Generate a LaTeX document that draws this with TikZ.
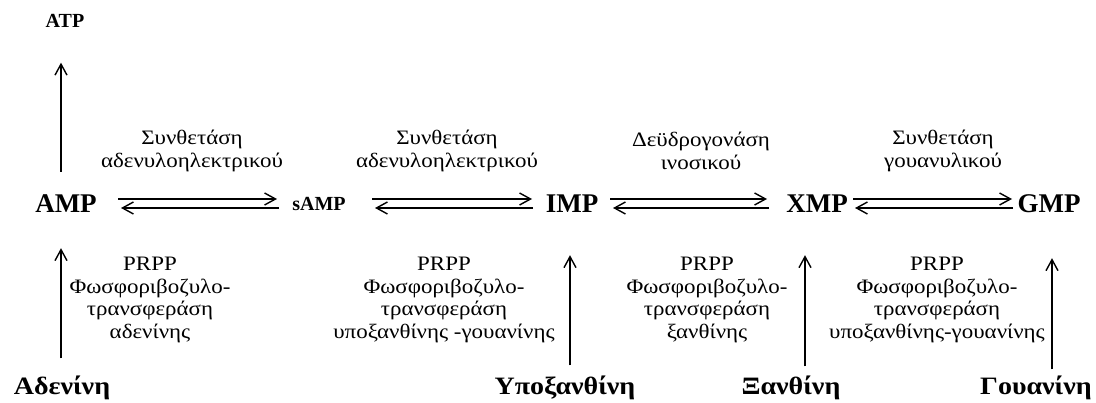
\documentclass[tikz,border=0pt]{standalone}
\usepackage{fontspec}
\setmainfont{Liberation Serif}
\newfontfamily\grfont{Liberation Serif}[FakeStretch=1.12]
\usetikzlibrary{arrows.meta}

\begin{document}
\begin{tikzpicture}[
    x=1pt, y=-1pt,
    met/.style={font=\bfseries\fontsize{27}{27}\selectfont, inner sep=0pt, text height=18pt, text depth=0pt},
    smet/.style={font=\bfseries\fontsize{20}{20}\selectfont, inner sep=0pt, text height=13pt, text depth=0pt},
    base/.style={font=\grfont\bfseries\fontsize{25}{25}\selectfont, inner sep=0pt, text height=16pt, text depth=5pt},
    enz/.style={font=\grfont\fontsize{20.5}{22.5}\selectfont, align=center, inner sep=0pt},
    arr/.style={-{Straight Barb[length=11pt,width=12pt]}, line width=1.4pt}
]
\useasboundingbox (0,0) rectangle (1096,403);

\node[smet] (atp) at (65,21) {ATP};
\node[met] (amp) at (66,204) {AMP};
\node[smet] (samp) at (319,204) {sAMP};
\node[met] (imp) at (572,204) {IMP};
\node[met] (xmp) at (817,204) {XMP};
\node[met] (gmp) at (1049,204) {GMP};

\node[base] (ade) at (62,389) {Αδενίνη};
\node[base] (hyp) at (565,389) {Υποξανθίνη};
\node[base] (xan) at (791,389) {Ξανθίνη};
\node[base] (gua) at (1036,389) {Γουανίνη};

\node[enz] (e1) at (192,151) {Συνθετάση\\αδενυλοηλεκτρικού};
\node[enz] (e2) at (447,151) {Συνθετάση\\αδενυλοηλεκτρικού};
\node[enz] (e3) at (701,151) {Δεϋδρογονάση\\ινοσικού};
\node[enz] (e4) at (943,151) {Συνθετάση\\γουανυλικού};

\node[enz] (p1) at (150,300) {PRPP\\Φωσφοριβοζυλο-\\τρανσφεράση\\αδενίνης};
\node[enz] (p2) at (444,300) {PRPP\\Φωσφοριβοζυλο-\\τρανσφεράση\\υποξανθίνης -γουανίνης};
\node[enz] (p3) at (707,300) {PRPP\\Φωσφοριβοζυλο-\\τρανσφεράση\\ξανθίνης};
\node[enz] (p4) at (937,300) {PRPP\\Φωσφοριβοζυλο-\\τρανσφεράση\\υποξανθίνης-γουανίνης};

\draw[arr] ([xshift=52pt,yshift=5pt]amp.center) -- ([xshift=-42pt,yshift=5pt]samp.center);
\draw[arr] ([xshift=-40pt,yshift=-4pt]samp.center) -- ([xshift=55pt,yshift=-4pt]amp.center);
\draw[arr] ([xshift=53pt,yshift=5pt]samp.center) -- ([xshift=-40pt,yshift=5pt]imp.center);
\draw[arr] ([xshift=-39pt,yshift=-4pt]imp.center) -- ([xshift=56pt,yshift=-4pt]samp.center);
\draw[arr] ([xshift=38pt,yshift=5pt]imp.center) -- ([xshift=-50pt,yshift=5pt]xmp.center);
\draw[arr] ([xshift=-48pt,yshift=-4pt]xmp.center) -- ([xshift=41pt,yshift=-4pt]imp.center);
\draw[arr] ([xshift=36pt,yshift=5pt]xmp.center) -- ([xshift=-37pt,yshift=5pt]gmp.center);
\draw[arr] ([xshift=-36pt,yshift=-4pt]gmp.center) -- ([xshift=38pt,yshift=-4pt]xmp.center);

\draw[arr] ([xshift=-5pt,yshift=23pt]amp.north) -- ([xshift=-4pt,yshift=-35pt]atp.south);
\draw[arr] ([xshift=-1pt,yshift=20pt]ade.north) -- ([xshift=-5pt,yshift=-35pt]amp.south);
\draw[arr] ([xshift=5pt,yshift=13pt]hyp.north) -- ([xshift=-2pt,yshift=-42pt]imp.south);
\draw[arr] ([xshift=14pt,yshift=12pt]xan.north) -- ([xshift=-12pt,yshift=-42pt]xmp.south);
\draw[arr] ([xshift=16pt,yshift=9pt]gua.north) -- ([xshift=3pt,yshift=-45pt]gmp.south);

\end{tikzpicture}
\end{document}
